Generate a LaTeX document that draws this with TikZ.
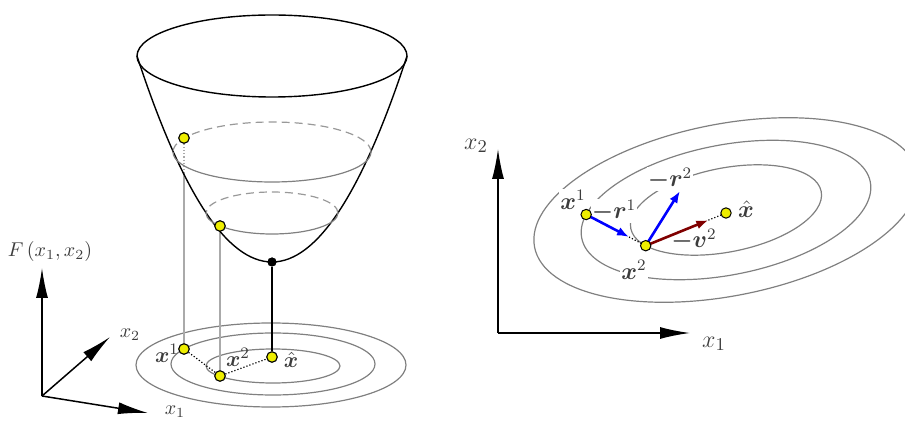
\documentclass[tikz,border=0pt]{standalone}
\usepackage{amsmath,bm}
\usetikzlibrary{arrows.meta,calc}

\definecolor{contourgray}{RGB}{128,128,128}
\definecolor{dropgray}{RGB}{170,170,170}
\definecolor{dotyellow}{RGB}{238,238,0}
\definecolor{darkred}{RGB}{128,0,0}
\definecolor{labelgray}{RGB}{60,60,60}

\begin{document}
\begin{tikzpicture}[x=0.5pt, y=-0.5pt,
  contour/.style={draw=contourgray, line width=0.6pt},
  hidden/.style={draw=contourgray!80, line width=0.6pt, dash pattern=on 4pt off 2.5pt},
  drop/.style={draw=dropgray, line width=0.6pt},
  ydot/.style={circle, draw=black, fill=dotyellow, line width=0.5pt, inner sep=0pt, minimum size=5.2pt},
  mindot/.style={circle, fill=black, inner sep=0pt, minimum size=4.5pt},
  stepline/.style={densely dotted, line width=0.6pt},
  bigarrow/.style={line width=0.75pt, -{Latex[length=15pt,width=6pt]}},
  vecarrow/.style={line width=1.3pt, -{Latex[length=6pt,width=4.5pt]}},
  lbl/.style={text=labelgray, font=\fontsize{10}{12}\selectfont, inner sep=0.5pt},
  ptlbl/.style={text=labelgray, font=\fontsize{11}{13}\selectfont, inner sep=0.5pt},
  tag/.style={ptlbl, font=\fontsize{11.5}{13}\selectfont, fill=white},
  axlbl/.style={text=labelgray, font=\fontsize{13}{15}\selectfont}]

  \useasboundingbox (0,0) rectangle (905,422);

  % ----------------------------------------------------------------
  % Left: floor contours
  % ----------------------------------------------------------------
  \foreach \cx/\cy/\rx/\ry in {271/365/135/42, 273/364/102/31, 273/366/67/17}{
    \draw[contour] (\cx,\cy) ellipse [x radius=\rx, y radius=\ry];
  }

  % points on the floor
  \node[ydot] (f1) at (184,349) {};
  \node[ydot] (f2) at (220,376) {};
  \node[ydot] (fhat) at (272,357) {};

  % points on the bowl
  \node[ydot] (s1) at (184,138) {};
  \node[ydot] (s2) at (220,226) {};
  \node[mindot] (smin) at (272,262) {};
  \coordinate (s1exit) at (184,174.5);

  % drop lines
  \draw[drop, densely dotted] (s1) -- (s1exit);
  \draw[drop] (s1exit) -- (f1);
  \draw[drop] (s2) -- (f2);
  \draw[line width=0.75pt] (smin) -- (fhat);

  % steps on the floor
  \draw[stepline] (f1) -- (f2);
  \draw[stepline] (f2) -- (fhat);

  % ----------------------------------------------------------------
  % Left: the bowl
  % ----------------------------------------------------------------
  \draw[line width=0.7pt] (272,56) ellipse [x radius=135, y radius=41];
  \draw[line width=0.7pt] (137,56) .. controls (182,193.3) and (227,262) .. (272,262)
                                   .. controls (317,262) and (362,193.3) .. (407,56);

  % level rings, back half hidden
  \draw[contour] (371,152) arc[start angle=0, end angle=180, x radius=99, y radius=30];
  \draw[hidden]  (371,152) arc[start angle=0, end angle=-180, x radius=99, y radius=30];
  \draw[contour] (338,213) arc[start angle=0, end angle=180, x radius=66, y radius=21];
  \draw[hidden]  (338,213) arc[start angle=0, end angle=-180, x radius=66, y radius=21];

  % dots again on top
  \node[ydot] at (s1) {};
  \node[ydot] at (s2) {};
  \node[mindot] at (smin) {};
  \node[ydot] at (f1) {};
  \node[ydot] at (f2) {};
  \node[ydot] at (fhat) {};

  \node[ptlbl] (lf1) at (167,353) {$\bm{x}^1$};
  \node[ptlbl] (lf2) at (238,357) {$\bm{x}^2$};
  \node[ptlbl] (lfhat) at (291,360) {$\hat{\bm{x}}$};

  % ----------------------------------------------------------------
  % Left: axes
  % ----------------------------------------------------------------
  \coordinate (o3) at (42,396);
  \coordinate (zend) at (42,268);
  \coordinate (yend) at (110,337);
  \coordinate (xend) at (148,413);
  \draw[bigarrow] (o3) -- (zend);
  \draw[bigarrow] (o3) -- (yend);
  \draw[bigarrow] (o3) -- (xend);
  \node[lbl] (lF) at (50,252) {$F\left(x_1, x_2\right)$};
  \node[lbl] (ly3) at (130,335) {$x_2$};
  \node[lbl] (lx3) at (175,412) {$x_1$};

  % ----------------------------------------------------------------
  % Right: contours and steps
  % ----------------------------------------------------------------
  \begin{scope}[shift={(726,210)}, rotate=11]
    \foreach \a/\b in {195/86, 147/65, 97/42}{
      \draw[contour] (0,0) ellipse [x radius=\a, y radius=\b];
    }
    \coordinate (q1) at (-160:147 and 65);
    \coordinate (q2) at (152:97 and 42);
  \end{scope}
  \coordinate (qhat) at (726,213);

  \node[tag] (lq1) at (573,200) {$\bm{x}^1$};
  \node[tag] (lr1) at (614,211) {$\bm{-r}^1$};
  \node[tag] (lr2) at (670,179) {$\bm{-r}^2$};
  \node[tag] (lv2) at (694,240) {$\bm{-v}^2$};
  \node[tag] (lq2) at (634,270) {$\bm{x}^2$};
  \node[tag] (lqhat) at (746,209) {$\hat{\bm{x}}$};

  \coordinate (r1tip) at ($(q1)!0.72!(q2)$);
  \coordinate (r2tip) at (680,191);
  \coordinate (v2tip) at ($(q2)!0.78!(qhat)$);

  \draw[stepline] (r1tip) -- (q2);
  \draw[stepline] (v2tip) -- (qhat);
  \draw[vecarrow, blue] (q1) -- (r1tip);
  \draw[vecarrow, blue] (q2) -- (r2tip);
  \draw[vecarrow, darkred] (q2) -- (v2tip);

  \node[ydot] (d1) at (q1) {};
  \node[ydot] (d2) at (q2) {};
  \node[ydot] (dhat) at (qhat) {};

  % ----------------------------------------------------------------
  % Right: axes
  % ----------------------------------------------------------------
  \coordinate (o2) at (498,333);
  \coordinate (y2end) at (498,149);
  \coordinate (x2end) at (690,333);
  \draw[bigarrow] (o2) -- (y2end);
  \draw[bigarrow] (o2) -- (x2end);
  \node[axlbl] (ly2) at (476,146) {$x_2$};
  \node[axlbl] (lx2) at (714,344) {$x_1$};

\end{tikzpicture}
\end{document}
